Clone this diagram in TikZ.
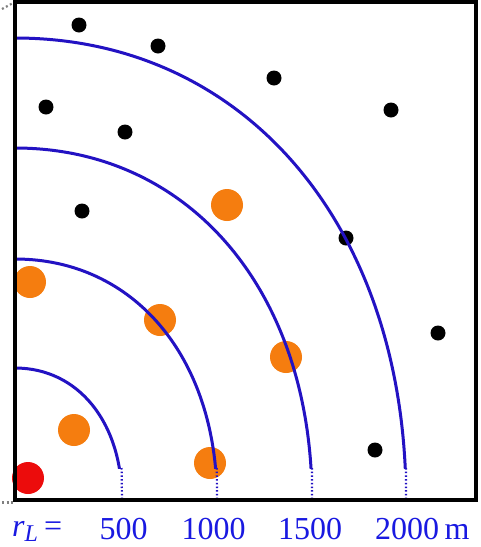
\documentclass[tikz,border=0pt]{standalone}
\usepackage{fontspec}
\setmainfont{Liberation Serif}
\begin{document}
\begin{tikzpicture}[x=1pt,y=-1pt,
  blackdot/.style={circle,fill=black,inner sep=0pt,minimum size=15pt},
  orangedot/.style={circle,fill=dotorange,inner sep=0pt,minimum size=32pt},
  reddot/.style={circle,fill=dotred,inner sep=0pt,minimum size=32pt},
  arcline/.style={draw=arcblue,line width=3pt},
  arcfade/.style={draw=arcblue,line width=2.2pt,dash pattern=on 1.5pt off 2.2pt},
  lbl/.style={text=lblblue,font=\fontsize{32}{36}\selectfont,inner sep=0pt,anchor=base},
  handle/.style={draw=gray,line width=2.2pt,dash pattern=on 2pt off 2.5pt}
]
\definecolor{dotorange}{RGB}{245,125,15}
\definecolor{dotred}{RGB}{236,12,12}
\definecolor{arcblue}{RGB}{35,18,195}
\definecolor{lblblue}{RGB}{25,25,225}
\useasboundingbox (0,0) rectangle (481,547);
\fill[white] (0,0) rectangle (481,547);

% dots
\node[blackdot] (b1) at (79,25) {};
\node[blackdot] (b2) at (158,46) {};
\node[blackdot] (b3) at (46,107) {};
\node[blackdot] (b4) at (125,132) {};
\node[blackdot] (b5) at (274,78) {};
\node[blackdot] (b6) at (391,110) {};
\node[blackdot] (b7) at (82,211) {};
\node[blackdot] (b8) at (346,238) {};
\node[blackdot] (b9) at (438,333) {};
\node[blackdot] (b10) at (375,450) {};
\node[orangedot] (o1) at (227,205) {};
\node[orangedot] (o2) at (30,282) {};
\node[orangedot] (o3) at (160,320) {};
\node[orangedot] (o4) at (286,357) {};
\node[orangedot] (o5) at (74,430) {};
\node[orangedot] (o6) at (210,463) {};
\node[reddot] (r1) at (28,478) {};

% arcs
\begin{scope}
\clip (0,0) rectangle (481,468);
\draw[arcline] (15,368) .. controls (78.1,368) and (122,422.1) .. (122,500);
\draw[arcline] (15,259) .. controls (134.2,259) and (217,357.8) .. (217,500);
\draw[arcline] (15,148) .. controls (190.2,148) and (312,292.3) .. (312,500);
\draw[arcline] (15,38) .. controls (245.7,38) and (406,227.4) .. (406,500);
\end{scope}
\coordinate (e1a) at (121.6,468); \coordinate (e1b) at (122,500);
\coordinate (e2a) at (216.8,468); \coordinate (e2b) at (217,500);
\coordinate (e3a) at (311.9,468); \coordinate (e3b) at (312,500);
\coordinate (e4a) at (405.9,468); \coordinate (e4b) at (406,500);
\draw[arcfade] (e1a) -- (e1b);
\draw[arcfade] (e2a) -- (e2b);
\draw[arcfade] (e3a) -- (e3b);
\draw[arcfade] (e4a) -- (e4b);

% frame
\draw[line width=4pt,black] (15,1.5) rectangle (476,500);
\coordinate (h1a) at (2,9); \coordinate (h1b) at (13,3);
\coordinate (h2a) at (2,502.5); \coordinate (h2b) at (13,502.5);
\draw[handle] (h1a) -- (h1b);
\draw[handle] (h2a) -- (h2b);

% labels
\node[lbl,anchor=base west] (rl) at (12,536) {\textit{r}\raisebox{-5pt}{\fontsize{24}{26}\selectfont\textit{L}}\hspace{6pt}=};
\node[lbl] (l500) at (123.5,539) {500};
\node[lbl] (l1000) at (213.5,539) {1000};
\node[lbl] (l1500) at (310,539) {1500};
\node[lbl,anchor=base west] (l2000) at (375,539) {2000\,m};
\end{tikzpicture}
\end{document}
